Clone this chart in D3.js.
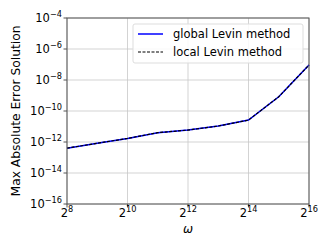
<!DOCTYPE html>
<html>
<head>
<meta charset="utf-8">
<script src="https://cdn.jsdelivr.net/npm/d3@7"></script>
<style>
  body { margin: 0; background: #fff; }
  svg { display: block; font-family: "DejaVu Sans", sans-serif; }
</style>
</head>
<body>
<div id="chart"></div>
<script>
// omega values (powers of two) and errors
const omegaExp = [8, 9, 10, 11, 12, 13, 14, 15, 16];
const globalErr = [4.0e-13, 8.3e-13, 1.7e-12, 4.0e-12, 5.9e-12, 1.07e-11, 2.6e-11, 8.3e-10, 9.3e-8];
const localErr = [4.0e-13, 8.3e-13, 1.7e-12, 4.0e-12, 5.9e-12, 1.07e-11, 2.6e-11, 8.3e-10, 9.3e-8];
const xTickExp = [8, 10, 12, 14, 16];
const yTickExp = [-16, -14, -12, -10, -8, -6, -4];
const seriesNames = ["global Levin method", "local Levin method"];

const width = 332, height = 249;
const margin = { top: 18, right: 23, bottom: 45, left: 67 };

const svg = d3.select("#chart").append("svg")
  .attr("width", width)
  .attr("height", height);

const x = d3.scaleLog().base(2)
  .domain([2 ** 8, 2 ** 16])
  .range([margin.left, width - margin.right]);

const y = d3.scaleLog()
  .domain([1e-16, 1e-4])
  .range([height - margin.bottom, margin.top]);

// grid
const grid = svg.append("g").attr("stroke", "#c8c8c8").attr("stroke-width", 0.8);
grid.selectAll("line.gx").data(xTickExp).join("line")
  .attr("x1", d => x(2 ** d)).attr("x2", d => x(2 ** d))
  .attr("y1", y.range()[0]).attr("y2", y.range()[1]);
grid.selectAll("line.gy").data(yTickExp).join("line")
  .attr("x1", x.range()[0]).attr("x2", x.range()[1])
  .attr("y1", d => y(10 ** d)).attr("y2", d => y(10 ** d));

// lines
const line = d3.line()
  .x((d, i) => x(2 ** omegaExp[i]))
  .y(d => y(d));

svg.append("path")
  .datum(globalErr)
  .attr("fill", "none")
  .attr("stroke", "#0000ff")
  .attr("stroke-width", 1.5)
  .attr("d", line);

svg.append("path")
  .datum(localErr)
  .attr("fill", "none")
  .attr("stroke", "#000")
  .attr("stroke-width", 1.2)
  .attr("stroke-dasharray", "3,1.5")
  .attr("d", line);

// frame
svg.append("rect")
  .attr("x", margin.left).attr("y", margin.top)
  .attr("width", x.range()[1] - x.range()[0])
  .attr("height", y.range()[0] - y.range()[1])
  .attr("fill", "none")
  .attr("stroke", "#555")
  .attr("stroke-width", 1);

// x axis ticks
const xt = svg.append("g").selectAll("g").data(xTickExp).join("g")
  .attr("transform", d => `translate(${x(2 ** d)},${y.range()[0]})`);
xt.append("line").attr("y2", 3.5).attr("stroke", "#555");
const xl = xt.append("text")
  .attr("y", 13)
  .attr("text-anchor", "middle")
  .attr("font-size", 11.5)
  .attr("fill", "#000");
xl.append("tspan").text("2");
xl.append("tspan").attr("dy", -5.5).attr("font-size", 8.2).text(d => d);

// y axis ticks
const yt = svg.append("g").selectAll("g").data(yTickExp).join("g")
  .attr("transform", d => `translate(${x.range()[0]},${y(10 ** d)})`);
yt.append("line").attr("x2", -3.5).attr("stroke", "#555");
const yl = yt.append("text")
  .attr("x", -5)
  .attr("y", 4.3)
  .attr("text-anchor", "end")
  .attr("font-size", 11.5)
  .attr("fill", "#000");
yl.append("tspan").text("10");
yl.append("tspan").attr("dy", -5.5).attr("font-size", 8.2).text(d => "\u2212" + Math.abs(d));

// axis labels
svg.append("text")
  .attr("x", (x.range()[0] + x.range()[1]) / 2)
  .attr("y", 233)
  .attr("text-anchor", "middle")
  .attr("font-size", 12)
  .attr("font-style", "italic")
  .text("\u03c9");

svg.append("text")
  .attr("transform", `translate(19.5,${(y.range()[0] + y.range()[1]) / 2}) rotate(-90)`)
  .attr("text-anchor", "middle")
  .attr("font-size", 12.3)
  .text("Max Absolute Error Solution");

// legend
const legend = svg.append("g").attr("transform", "translate(133,24)");
legend.append("rect")
  .attr("width", 170).attr("height", 39).attr("rx", 2)
  .attr("fill", "#fff").attr("fill-opacity", 0.85)
  .attr("stroke", "#ddd");
const li = legend.selectAll("g").data(seriesNames).join("g")
  .attr("transform", (d, i) => `translate(0,${10 + i * 18})`);
li.append("line")
  .attr("x1", 5).attr("x2", 30)
  .attr("stroke", (d, i) => i === 0 ? "#0000ff" : "#000")
  .attr("stroke-width", (d, i) => i === 0 ? 1.5 : 1.2)
  .attr("stroke-dasharray", (d, i) => i === 0 ? null : "3,1.5");
li.append("text")
  .attr("x", 40).attr("y", 4)
  .attr("font-size", 11.5)
  .text(d => d);
</script>
</body>
</html>
